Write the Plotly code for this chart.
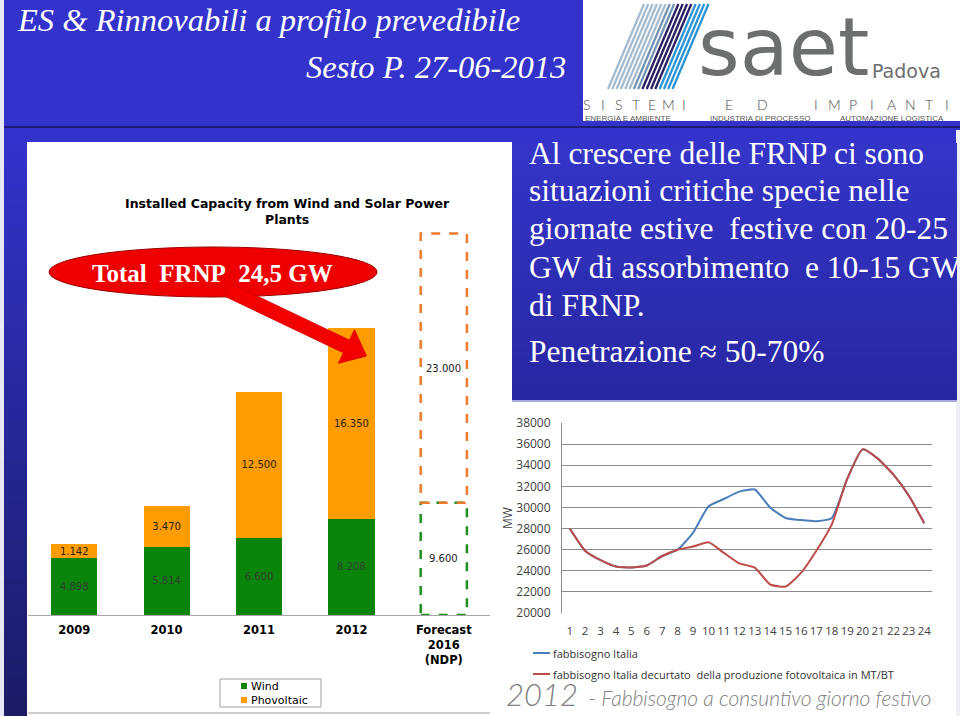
import plotly.graph_objects as go

W, H = 960, 716


def X(p):
    return p / W


def Y(p):
    return 1 - p / H


# ---------------- data ----------------
years = ["2009", "2010", "2011", "2012", "Forecast<br>2016<br>(NDP)"]
wind = [4898, 5814, 6600, 8208, None]
pv = [1142, 3470, 12500, 16350, None]
forecast_wind = 9600
forecast_pv = 23000
series_names = ["Wind", "Phovoltaic"]

hours = list(range(1, 25))
fabbisogno = [28000, 25900, 25000, 24400, 24300, 24500, 25400, 26000, 27600, 30100, 30800, 31500,
              31700, 30000, 29000, 28800, 28700, 29000, 32700, 35500, 34600, 33100, 31100, 28500]
decurtato = [28000, 25900, 25000, 24400, 24300, 24500, 25400, 26000, 26300, 26700, 25700, 24700,
             24300, 22700, 22500, 23800, 25900, 28400, 32700, 35500, 34600, 33100, 31100, 28500]
line_names = ["fabbisogno Italia",
              "fabbisogno Italia decurtato\u00a0 della produzione fotovoltaica in MT/BT"]
mw_ticks = list(range(20000, 38001, 2000))


def it(v):
    return f"{v:,}".replace(",", ".") if v is not None else ""


GREEN = "#0b840b"
ORANGE = "#ff9c00"
BLUE_L = "#4a7ebb"
RED_L = "#be4b48"
NB = "\u00a0"

fig = go.Figure()

fig.add_trace(go.Bar(
    x=years, y=wind, name=series_names[0], marker=dict(color=GREEN, line=dict(width=0)),
    text=[it(v) for v in wind], textposition="inside", insidetextanchor="middle", textangle=0,
    textfont=dict(family="DejaVu Sans", size=10, color="#2e3e2e"), width=0.5,
    xaxis="x", yaxis="y", hoverinfo="skip", showlegend=False))
fig.add_trace(go.Bar(
    x=years, y=pv, name=series_names[1], marker=dict(color=ORANGE, line=dict(width=0)),
    text=[it(v) for v in pv], textposition="inside", insidetextanchor="middle", textangle=0,
    textfont=dict(family="DejaVu Sans", size=10, color="#222222"), width=0.5,
    xaxis="x", yaxis="y", hoverinfo="skip", showlegend=False))

fig.add_trace(go.Scatter(
    x=hours, y=fabbisogno, mode="lines", line=dict(color=BLUE_L, width=2, shape="spline", smoothing=0.5),
    xaxis="x2", yaxis="y2", showlegend=False, name=line_names[0]))
fig.add_trace(go.Scatter(
    x=hours, y=decurtato, mode="lines", line=dict(color=RED_L, width=2, shape="spline", smoothing=0.5),
    xaxis="x2", yaxis="y2", showlegend=False, name=line_names[1]))

shapes = []


def rect(x0, y0, x1, y1, color, layer="below", border=None):
    shapes.append(dict(type="rect", xref="paper", yref="paper", x0=X(x0), x1=X(x1), y0=Y(y0), y1=Y(y1),
                       fillcolor=color, line=dict(width=1, color=border) if border else dict(width=0),
                       layer=layer))


def hexrgb(c):
    c = c.lstrip("#")
    return [int(c[i:i + 2], 16) for i in (0, 2, 4)]


def grad(x0, y0, x1, y1, c0, c1, n=30):
    a, b = hexrgb(c0), hexrgb(c1)
    h = (y1 - y0) / n
    for i in range(n):
        t = i / (n - 1)
        col = "rgb(%d,%d,%d)" % tuple(round(a[k] + (b[k] - a[k]) * t) for k in range(3))
        rect(x0, y0 + i * h, x1, y0 + (i + 1) * h + 0.6, col)


def line(x0, y0, x1, y1, color, width=1, layer="below"):
    shapes.append(dict(type="line", xref="paper", yref="paper", x0=X(x0), x1=X(x1), y0=Y(y0), y1=Y(y1),
                       line=dict(color=color, width=width), layer=layer))


# slide background pieces
rect(0, 0, 4, 716, "#e8e8f4")
grad(4, 128, 27, 716, "#3333cc", "#1b1b66")
line(4, 127, 960, 127, "#1c1c70", 2)
rect(27, 142, 512, 716, "white")
rect(27, 400, 960, 716, "white")
rect(956, 130, 960, 716, "#eef0f6")
grad(512, 143, 957, 400, "#3434c8", "#2727a2")
line(512, 401, 957, 401, "#a8a8e0", 2)
line(28, 713, 490, 713, "#9a9a9a", 1)

# logo box
rect(583, 0, 960, 121, "white")
stripe_cols = (["#a5bbd0"] * 6 + ["#7393b3"] * 2 + ["#2a1f60"] * 4 + ["#2b94d6"] * 4)
for i, c in enumerate(stripe_cols):
    xt = 644 + i * 4.3
    line(xt, 4, xt - 36, 89, c, 2.3)

# red ellipse + arrow
shapes.append(dict(type="circle", xref="paper", yref="paper", x0=X(49), x1=X(377), y0=Y(297), y1=Y(247),
                   fillcolor="#ee0000", line=dict(color="#9a0000", width=1)))
pts = [(231, 283.7), (349.5, 340.2), (354.5, 329.8), (366.4, 356), (338.5, 363.2), (343.5, 352.8), (225, 296.3)]
path = "M " + " L ".join(f"{X(a):.5f},{Y(b):.5f}" for a, b in pts) + " Z"
shapes.append(dict(type="path", xref="paper", yref="paper", path=path, fillcolor="#f20000",
                   line=dict(color="#e00000", width=1)))

# forecast dashed boxes (data coordinates)
shapes.append(dict(type="rect", xref="x", yref="y", x0=3.75, x1=4.25, y0=0, y1=forecast_wind,
                   line=dict(color="#1f8f1f", width=2.5, dash="dash"), fillcolor="rgba(0,0,0,0)"))
shapes.append(dict(type="rect", xref="x", yref="y", x0=3.75, x1=4.25, y0=forecast_wind,
                   y1=forecast_wind + forecast_pv,
                   line=dict(color="#ee7a2e", width=2.5, dash="dash"), fillcolor="rgba(0,0,0,0)"))

# bar legend box
rect(220, 679, 321, 707, "white", layer="above", border="#a0a0a0")
rect(241, 683, 247, 689, GREEN, layer="above")
rect(241, 697, 247, 703, ORANGE, layer="above")

# manual legend for the line chart
line(533, 653, 550, 653, BLUE_L, 2)
line(533, 674, 550, 674, RED_L, 2)

ann = []


def text(x, y, s, size, color="white", family="Liberation Serif", xanchor="left", yanchor="middle",
         weight="normal", style="normal", **kw):
    ann.append(dict(xref="paper", yref="paper", x=X(x), y=Y(y), text=s, showarrow=False,
                    xanchor=xanchor, yanchor=yanchor,
                    font=dict(size=size, color=color, family=family, weight=weight, style=style), **kw))


text(15, 20, "ES &amp; Rinnovabili a profilo prevedibile", 32.5, style="italic")
text(568, 67, "Sesto P. 27-06-2013", 32.5, style="italic", xanchor="right")

# logo texts
text(783, 47, "saet", 80, color="#6d6e70", family="DejaVu Sans", xanchor="center")
text(906, 71, "Padova", 19, color="#6d6e70", family="DejaVu Sans", xanchor="center")
logo_letters = [("S", 587), ("I", 603), ("S", 619), ("T", 636), ("E", 652), ("M", 668), ("I", 684),
                ("E", 729), ("D", 762),
                ("I", 816), ("M", 834), ("P", 853), ("I", 872), ("A", 891), ("N", 910), ("T", 929), ("I", 947)]
for ch, xx in logo_letters:
    text(xx, 105, ch, 14, color="#4a4a4a", family="Lato", xanchor="center", weight=300)
text(583, 118.5, "ENERGIA E AMBIENTE", 8, color="#555555", family="Liberation Sans")
text(708, 118.5, "INDUSTRIA DI PROCESSO", 8, color="#555555", family="Liberation Sans")
text(838, 118.5, "AUTOMAZIONE LOGISTICA", 8, color="#555555", family="Liberation Sans")

# text box
tb_lines = ["Al crescere delle FRNP ci sono",
            "situazioni critiche specie nelle",
            "giornate estive" + NB + " festive con 20-25",
            "GW di assorbimento" + NB + " e 10-15 GW",
            "di FRNP."]
for i, s in enumerate(tb_lines):
    text(527, 153 + i * 38, s, 31.5)
text(527, 351, "Penetrazione ≈ 50-70%", 31.5)

# bar chart title and ellipse text
text(287, 212, "Installed Capacity from Wind and Solar Power<br>Plants", 12.5, color="black",
     family="DejaVu Sans", xanchor="center", weight="bold")
text(212, 273, "Total" + NB + NB + "FRNP" + NB + NB + "24,5 GW", 25, color="white", family="Liberation Serif",
     xanchor="center", weight="bold")

# bar legend texts
text(249, 686, series_names[0], 11, color="black", family="DejaVu Sans")
text(249, 700, series_names[1], 11, color="black", family="DejaVu Sans")

# forecast labels (data coordinates)
for yv, lab in [(forecast_wind / 2, it(forecast_wind)), (forecast_wind + forecast_pv / 2, it(forecast_pv))]:
    ann.append(dict(xref="x", yref="y", x=4, y=yv, text=lab, showarrow=False,
                    font=dict(family="DejaVu Sans", size=10, color="#222222")))

# line chart legend texts and caption
text(551, 653, line_names[0], 11, color="#333333", family="Open Sans")
text(551, 674, line_names[1], 11, color="#333333", family="Open Sans")
text(504, 694, "<span style='font-size:31px'>2012</span>" + NB + " - Fabbisogno a consuntivo giorno festivo",
     21, color="#808080", family="Lato", style="italic", weight=300)

fig.update_layout(
    width=W, height=H, margin=dict(l=0, r=0, t=0, b=0, autoexpand=False),
    paper_bgcolor="#3333cc", plot_bgcolor="rgba(0,0,0,0)",
    barmode="stack", bargap=0.5,
    uniformtext=dict(minsize=10, mode="show"),
    shapes=shapes, annotations=ann,
    showlegend=False,
    xaxis=dict(domain=[X(28), X(490)], anchor="y", type="category", range=[-0.5, 4.5],
               showline=True, linecolor="#a6a6a6", linewidth=1, ticks="", showgrid=False,
               tickfont=dict(family="DejaVu Sans", size=11.5, color="black", weight="bold"),
               ticklabelstandoff=4, fixedrange=True),
    yaxis=dict(domain=[Y(615), Y(145)], anchor="x", range=[0, 470 / 0.0117], visible=False,
               fixedrange=True),
    xaxis2=dict(domain=[X(562), X(932)], anchor="y2", range=[0.5, 24.5], tickvals=hours,
                showline=False, showgrid=False, zeroline=False, ticks="", tickangle=0,
                ticklabelstandoff=9,
                tickfont=dict(family="Open Sans", size=11.5, color="#404040")),
    yaxis2=dict(domain=[Y(613), Y(423)], anchor="x2", range=[20000, 38000], tickvals=mw_ticks,
                tickformat="d", showline=True, linecolor="#8c8c8c", gridcolor="#8c8c8c", zeroline=False,
                ticks="", ticklabelstandoff=8, tickfont=dict(family="Open Sans", size=12, color="#404040"),
                title=dict(text="MW", font=dict(family="Open Sans", size=12, color="#404040"), standoff=0)),
)

fig.write_html("out.html")
